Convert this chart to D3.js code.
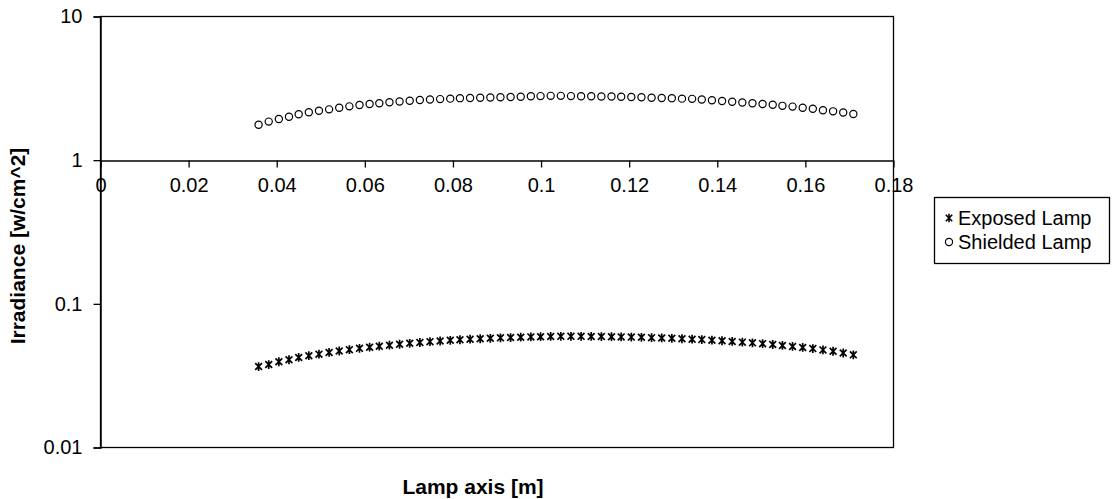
<!DOCTYPE html>
<html>
<head>
<meta charset="utf-8">
<script src="https://cdn.jsdelivr.net/npm/d3@7"></script>
<style>
  html, body { margin: 0; padding: 0; background: #fff; }
  svg { display: block; }
  text { font-family: "Liberation Sans", Arial, sans-serif; fill: #000; }
</style>
</head>
<body>
<svg id="chart" width="1115" height="499"></svg>
<script>
// ---- data ----
const lampAxis = [
  0.0360, 0.0383, 0.0406, 0.0429, 0.0451, 0.0474, 0.0497, 0.0520, 0.0543, 0.0566,
  0.0589, 0.0612, 0.0634, 0.0657, 0.0680, 0.0703, 0.0726, 0.0749, 0.0772, 0.0795,
  0.0817, 0.0840, 0.0863, 0.0886, 0.0909, 0.0932, 0.0955, 0.0978, 0.1000, 0.1023,
  0.1046, 0.1069, 0.1092, 0.1115, 0.1138, 0.1161, 0.1183, 0.1206, 0.1229, 0.1252,
  0.1275, 0.1298, 0.1321, 0.1344, 0.1366, 0.1389, 0.1412, 0.1435, 0.1458, 0.1481,
  0.1504, 0.1527, 0.1549, 0.1572, 0.1595, 0.1618, 0.1641, 0.1664, 0.1687, 0.1710
];
const exposedLamp = [
  0.0363, 0.0375, 0.0392, 0.0405, 0.0420, 0.0432, 0.0443, 0.0455, 0.0466, 0.0476,
  0.0486, 0.0495, 0.0503, 0.0511, 0.0519, 0.0527, 0.0534, 0.0541, 0.0547, 0.0553,
  0.0558, 0.0563, 0.0567, 0.0571, 0.0575, 0.0578, 0.0581, 0.0584, 0.0586, 0.0588,
  0.0589, 0.0589, 0.0589, 0.0588, 0.0587, 0.0586, 0.0584, 0.0582, 0.0580, 0.0577,
  0.0574, 0.0571, 0.0567, 0.0563, 0.0559, 0.0554, 0.0549, 0.0543, 0.0537, 0.0531,
  0.0524, 0.0517, 0.0509, 0.0501, 0.0493, 0.0484, 0.0474, 0.0464, 0.0451, 0.0438
];
const shieldedLamp = [
  1.75, 1.84, 1.92, 1.99, 2.07, 2.14, 2.19, 2.24, 2.30, 2.35,
  2.40, 2.44, 2.47, 2.51, 2.54, 2.57, 2.60, 2.62, 2.64, 2.66,
  2.68, 2.69, 2.70, 2.71, 2.72, 2.73, 2.74, 2.76, 2.77, 2.78,
  2.78, 2.77, 2.76, 2.76, 2.75, 2.75, 2.74, 2.73, 2.72, 2.70,
  2.69, 2.68, 2.66, 2.65, 2.62, 2.59, 2.56, 2.53, 2.50, 2.47,
  2.44, 2.41, 2.37, 2.34, 2.30, 2.26, 2.21, 2.17, 2.13, 2.08
];
const xTicks = [0, 0.02, 0.04, 0.06, 0.08, 0.1, 0.12, 0.14, 0.16, 0.18];
const xTickLabels = ["0", "0.02", "0.04", "0.06", "0.08", "0.1", "0.12", "0.14", "0.16", "0.18"];
const yTicks = [0.01, 0.1, 1, 10];
const yTickLabels = ["0.01", "0.1", "1", "10"];
const seriesNames = ["Exposed Lamp", "Shielded Lamp"];
const xTitle = "Lamp axis [m]";
const yTitle = "Irradiance [w/cm^2]";

// ---- layout ----
const svg = d3.select("#chart");
const L = 100, R = 893, T = 16, B = 447;
const x = d3.scaleLinear().domain([0, 0.18]).range([L, R]);
const y = d3.scaleLog().domain([0.01, 10]).range([B, T]);
const FS = 20;

// plot area border
svg.append("rect")
  .attr("x", L + 0.5).attr("y", T + 0.5)
  .attr("width", R - L).attr("height", B - T)
  .attr("fill", "none").attr("stroke", "#000").attr("stroke-width", 1.3);

// y axis
const yAxis = d3.axisLeft(y).tickValues(yTicks)
  .tickFormat((d, i) => yTickLabels[i]).tickSize(7).tickPadding(11);
const gy = svg.append("g").attr("transform", `translate(${L + 0.5},0.5)`).call(yAxis);
gy.select(".domain").attr("stroke", "#000").attr("stroke-width", 1.5);
gy.selectAll(".tick line").attr("stroke", "#000").attr("stroke-width", 1.3);
gy.selectAll(".tick text").attr("font-size", FS).attr("font-family", "Liberation Sans, Arial, sans-serif").attr("fill", "#000");

// x axis crossing at y = 1
const xAxis = d3.axisBottom(x).tickValues(xTicks)
  .tickFormat((d, i) => xTickLabels[i]).tickSize(7).tickSizeOuter(0).tickPadding(10);
const gx = svg.append("g").attr("transform", `translate(0.5,${Math.round(y(1)) + 0.5})`).call(xAxis);
gx.select(".domain").attr("stroke", "#000").attr("stroke-width", 1.5);
gx.selectAll(".tick line").attr("stroke", "#000").attr("stroke-width", 1.3);
gx.selectAll(".tick text").attr("font-size", FS).attr("font-family", "Liberation Sans, Arial, sans-serif").attr("fill", "#000");

// titles
svg.append("text")
  .attr("x", 473).attr("y", 494)
  .attr("text-anchor", "middle").attr("font-size", 21).attr("font-weight", "bold")
  .text(xTitle);
svg.append("text")
  .attr("transform", `translate(25,246) rotate(-90)`)
  .attr("text-anchor", "middle").attr("font-size", 21).attr("font-weight", "bold")
  .text(yTitle);

// markers
const starPath = s => `M${-s},${-s}L${s},${s}M${-s},${s}L${s},${-s}M0,${-s - 1}L0,${s + 1}`;

const exposedData = lampAxis.map((d, i) => [d, exposedLamp[i]]);
const shieldedData = lampAxis.map((d, i) => [d, shieldedLamp[i]]);

svg.append("g").selectAll("path").data(exposedData).join("path")
  .attr("transform", d => `translate(${x(d[0])},${y(d[1])})`)
  .attr("d", starPath(3.4))
  .attr("stroke", "#000").attr("stroke-width", 1.7).attr("fill", "none");

svg.append("g").selectAll("circle").data(shieldedData).join("circle")
  .attr("cx", d => x(d[0])).attr("cy", d => y(d[1])).attr("r", 3.6)
  .attr("stroke", "#000").attr("stroke-width", 1.2).attr("fill", "#fff");

// legend
const lg = svg.append("g");
lg.append("rect")
  .attr("x", 934.5).attr("y", 197.5).attr("width", 175).attr("height", 66)
  .attr("fill", "#fff").attr("stroke", "#000").attr("stroke-width", 1.3);
const rows = [218, 242];
seriesNames.forEach((name, i) => {
  const cy = rows[i];
  if (i === 0) {
    lg.append("path").attr("transform", `translate(949,${cy})`).attr("d", starPath(3.2))
      .attr("stroke", "#000").attr("stroke-width", 1.6).attr("fill", "none");
  } else {
    lg.append("circle").attr("cx", 949).attr("cy", cy).attr("r", 3.6)
      .attr("stroke", "#000").attr("stroke-width", 1.2).attr("fill", "#fff");
  }
  lg.append("text").attr("x", 958).attr("y", cy).attr("dy", "0.35em")
    .attr("font-size", FS).text(name);
});
</script>
</body>
</html>
